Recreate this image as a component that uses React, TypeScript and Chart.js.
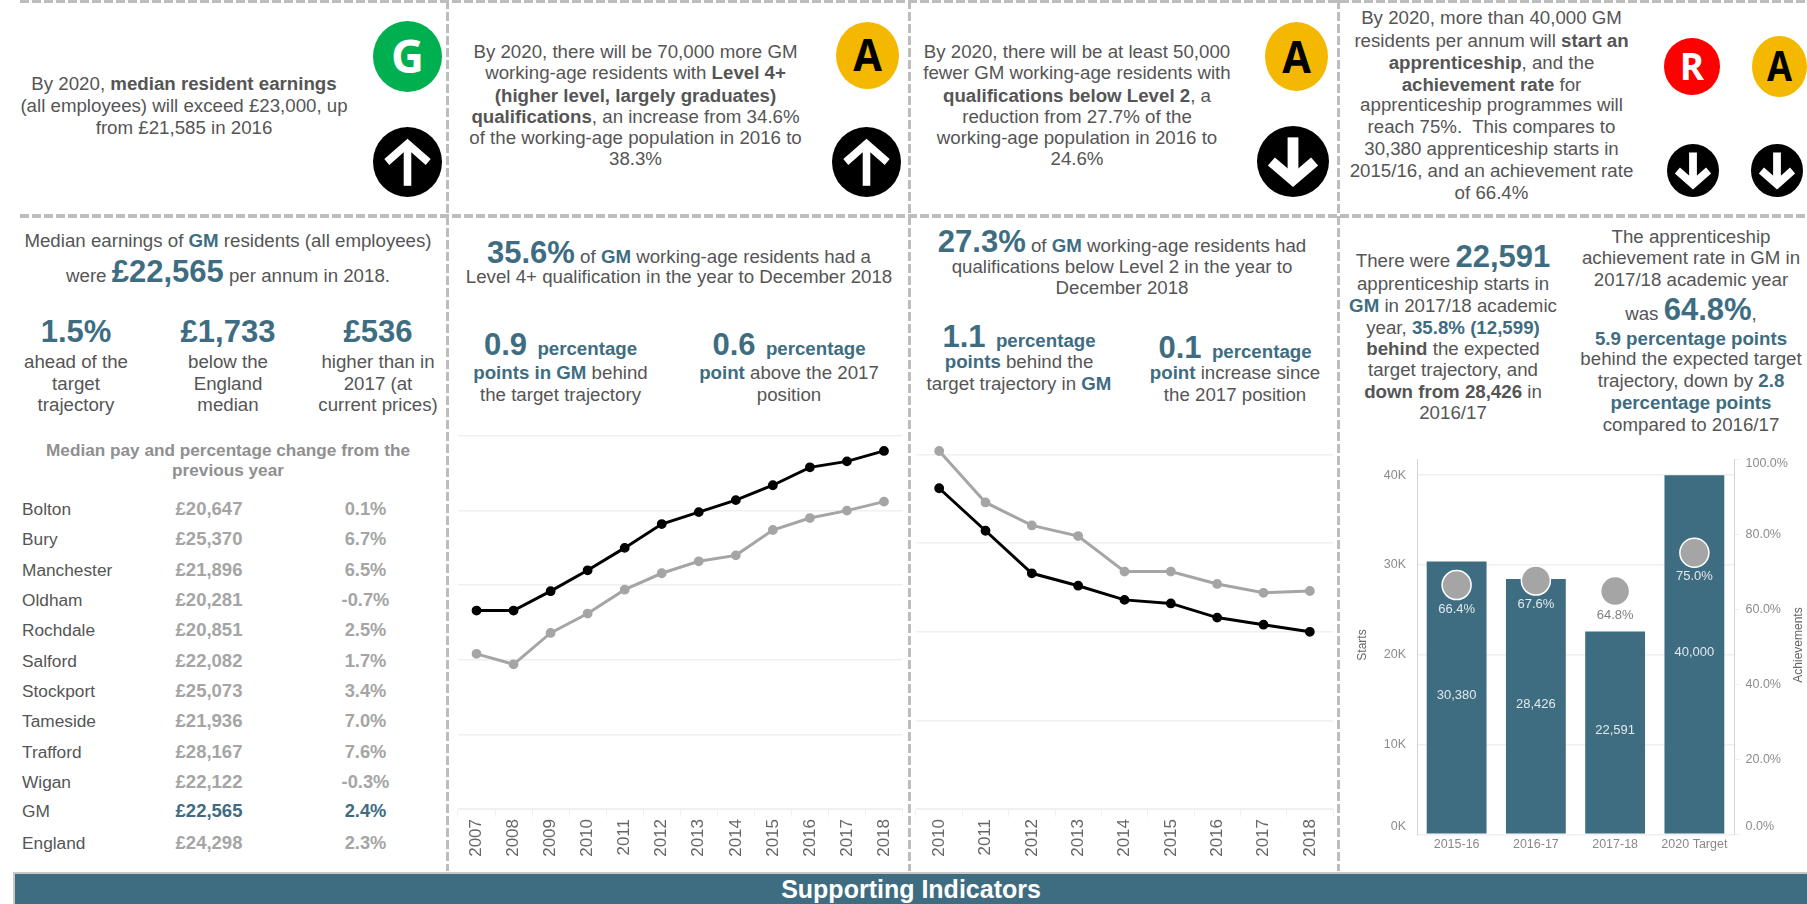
import React, { useEffect, useRef } from "react";
import { Chart, registerables } from "chart.js";

Chart.register(...registerables);

const TEAL = "#3e6d82";
const BODY = "#555555";
const GREY = "#a5a5a5";
const FONT = '"Liberation Sans", Arial, sans-serif';

// ---------- chart data ----------
const level4Years = ["2007", "2008", "2009", "2010", "2011", "2012", "2013", "2014", "2015", "2016", "2017", "2018"];
const level4England = [28.3, 28.3, 29.6, 31.0, 32.5, 34.1, 34.9, 35.7, 36.7, 37.9, 38.3, 39.0];
const level4GM = [25.4, 24.7, 26.8, 28.1, 29.7, 30.8, 31.6, 32.0, 33.7, 34.5, 35.0, 35.6];
const level4Grid = [15, 20, 25, 30, 35, 40];

const below2Years = ["2010", "2011", "2012", "2013", "2014", "2015", "2016", "2017", "2018"];
const below2GM = [35.2, 32.3, 31.0, 30.4, 28.4, 28.4, 27.7, 27.2, 27.3];
const below2England = [33.1, 30.7, 28.3, 27.6, 26.8, 26.6, 25.8, 25.4, 25.0];
const below2Grid = [15, 20, 25, 30, 35];

const apprenticeYears = ["2015-16", "2016-17", "2017-18", "2020 Target"];
const apprenticeStarts = [30380, 28426, 22591, 40000];
const apprenticeRate = [66.4, 67.6, 64.8, 75.0];
const rateLabelColors = ["#e2e8ec", "#e2e8ec", "#808080", "#e2e8ec"];
const startTicks = [0, 10000, 20000, 30000, 40000];
const rateTicks = [0, 20, 40, 60, 80, 100];

// ---------- table data ----------
const areas = ["Bolton", "Bury", "Manchester", "Oldham", "Rochdale", "Salford", "Stockport", "Tameside", "Trafford", "Wigan", "GM", "England"];
const medianPay = ["£20,647", "£25,370", "£21,896", "£20,281", "£20,851", "£22,082", "£25,073", "£21,936", "£28,167", "£22,122", "£22,565", "£24,298"];
const payChange = ["0.1%", "6.7%", "6.5%", "-0.7%", "2.5%", "1.7%", "3.4%", "7.0%", "7.6%", "-0.3%", "2.4%", "2.3%"];
const rowY = [509, 539, 570, 600, 630, 661, 691, 721, 752, 782, 811, 843];

// ---------- text: [centre x, [centre y, markup]...]  *bold*  [teal bold]  {big teal}
type Block = [number, [number, string][]];
const textBlocks: Block[] = [
  [184, [[84, "By 2020, *median resident earnings*"], [106, "(all employees) will exceed £23,000, up"], [128, "from £21,585 in 2016"]]],
  [635.5, [[52, "By 2020, there will be 70,000 more GM"], [73, "working-age residents with *Level 4+*"], [96, "*(higher level, largely graduates)*"], [117, "*qualifications*, an increase from 34.6%"], [138, "of the working-age population in 2016 to"], [159, "38.3%"]]],
  [1077, [[52, "By 2020, there will be at least 50,000"], [73, "fewer GM working-age residents with"], [96, "*qualifications below Level 2*, a"], [117, "reduction from 27.7% of the"], [138, "working-age population in 2016 to"], [159, "24.6%"]]],
  [1491.5, [[18, "By 2020, more than 40,000 GM"], [41, "residents per annum will *start an*"], [63, "*apprenticeship*, and the"], [85, "*achievement rate* for"], [105, "apprenticeship programmes will"], [127, "reach 75%.  This compares to"], [149, "30,380 apprenticeship starts in"], [171, "2015/16, and an achievement rate"], [193, "of 66.4%"]]],
  [228, [[241, "Median earnings of [GM] residents (all employees)"], [272, "were {£22,565} per annum in 2018."]]],
  [76, [[332, "{1.5%}"], [362, "ahead of the"], [384, "target"], [405, "trajectory"]]],
  [228, [[332, "{£1,733}"], [362, "below the"], [384, "England"], [405, "median"]]],
  [378, [[332, "{£536}"], [362, "higher than in"], [384, "2017 (at"], [405, "current prices)"]]],
  [679, [[253, "{35.6%} of [GM] working-age residents had a"], [277, "Level 4+ qualification in the year to December 2018"]]],
  [560.5, [[345, "{0.9}  [percentage]"], [373, "[points in GM] behind"], [395, "the target trajectory"]]],
  [789, [[345, "{0.6}  [percentage]"], [373, "[point] above the 2017"], [395, "position"]]],
  [1122, [[242, "{27.3%} of [GM] working-age residents had"], [267, "qualifications below Level 2 in the year to"], [288, "December 2018"]]],
  [1019, [[337, "{1.1}  [percentage]"], [362, "[points] behind the"], [384, "target trajectory in [GM]"]]],
  [1235, [[348, "{0.1}  [percentage]"], [373, "[point] increase since"], [395, "the 2017 position"]]],
  [1453, [[257, "There were {22,591}"], [284, "apprenticeship starts in"], [306, "[GM] in 2017/18 academic"], [328, "year, [35.8% (12,599)]"], [349, "*behind* the expected"], [370, "target trajectory, and"], [392, "*down from 28,426* in"], [413, "2016/17"]]],
  [1691, [[237, "The apprenticeship"], [258, "achievement rate in GM in"], [280, "2017/18 academic year"], [310, "was {64.8%},"], [339, "[5.9 percentage points]"], [359, "behind the expected target"], [381, "trajectory, down by [2.8]"], [403, "[percentage points]"], [425, "compared to 2016/17"]]],
];

// ---------- icons: letter, centre x, centre y, w, h, fill, ink ----------
const badges: [string, number, number, number, number, string, string][] = [
  ["G", 407.5, 56.5, 69, 71, "#00b050", "#ffffff"],
  ["A", 867.5, 55.5, 63, 67, "#f5b800", "#000000"],
  ["A", 1296, 56, 63, 69, "#f5b800", "#000000"],
  ["R", 1692, 66, 56, 57, "#ff0000", "#ffffff"],
  ["A", 1779, 66.5, 55, 61, "#f5b800", "#000000"],
];
const arrows: [boolean, number, number, number, number][] = [
  [true, 407.5, 161.5, 69, 70],
  [true, 866, 161.5, 69, 70],
  [false, 1293, 161.5, 72, 71],
  [false, 1693, 170, 52, 53],
  [false, 1777, 170, 52, 53],
];

const vDashes = [447, 909, 1338];
const hDashes = [1, 216];

function renderMarkup(s: string) {
  return s.split(/(\*[^*]+\*|\[[^\]]+\]|\{[^}]+\})/).filter(Boolean).map((p, i) => {
    const inner = p.slice(1, -1);
    if (p[0] === "*") return <span key={i} style={{ fontWeight: 700 }}>{inner}</span>;
    if (p[0] === "[") return <span key={i} style={{ fontWeight: 700, color: TEAL }}>{inner}</span>;
    if (p[0] === "{") return <span key={i} style={{ fontWeight: 700, color: TEAL, fontSize: 31 }}>{inner}</span>;
    return <span key={i}>{p}</span>;
  });
}

const centred = (x: number, y: number): React.CSSProperties => ({
  position: "absolute", left: x, top: y - 12, height: 24, lineHeight: "24px",
  transform: "translateX(-50%)", whiteSpace: "pre", textAlign: "center",
});

function useChart(make: (c: HTMLCanvasElement) => Chart) {
  const ref = useRef<HTMLCanvasElement>(null);
  useEffect(() => {
    const chart = make(ref.current!);
    return () => chart.destroy();
  }, []);
  return ref;
}

function lineChart(
  canvas: HTMLCanvasElement, labels: string[], grey: number[], black: number[], grid: number[],
  min: number, max: number, pad: { left: number; right: number; top: number; bottom: number }, xHeight: number,
) {
  return new Chart(canvas, {
    type: "line",
    data: {
      labels,
      datasets: [
        { data: black, borderColor: "#000000", backgroundColor: "#000000", borderWidth: 3, pointRadius: 3.4, tension: 0, order: 1 },
        { data: grey, borderColor: GREY, backgroundColor: GREY, borderWidth: 3, pointRadius: 3.4, tension: 0, order: 2 },
      ],
    },
    options: {
      responsive: false, animation: false, layout: { padding: pad, autoPadding: false } as any,
      plugins: { legend: { display: false }, tooltip: { enabled: false } },
      scales: {
        x: {
          offset: true,
          afterFit: (s: any) => { s.height = xHeight; },
          grid: { offset: true, drawOnChartArea: false, drawTicks: true, tickLength: 8, color: "#f0f0f0" },
          border: { color: "#f0f0f0" },
          ticks: { minRotation: 90, maxRotation: 90, autoSkip: false, padding: 2, color: "#666666", font: { family: FONT, size: 17 } },
        },
        y: {
          min, max,
          afterFit: (s: any) => { s.width = 0; },
          afterBuildTicks: (s: any) => { s.ticks = grid.map((v) => ({ value: v })); },
          grid: { color: "#f0f0f0", lineWidth: 1.5, drawTicks: false },
          border: { display: false },
          ticks: { display: false },
        },
      },
    },
  });
}

const fmtK = (v: number) => `${v / 1000}K`;
const fmtPct = (v: number) => `${v.toFixed(1)}%`;
const fmtNum = (v: number) => v.toLocaleString("en-GB");

const comboLabels = {
  id: "comboLabels",
  afterDatasetsDraw(chart: any) {
    const { ctx, scales, chartArea } = chart;
    ctx.save();
    ctx.font = `12.5px ${FONT}`;
    ctx.textBaseline = "middle";
    const clampY = (y: number) => Math.max(chartArea.top + 5, Math.min(chartArea.bottom - 8, y));
    ctx.fillStyle = "#8c8c8c";
    ctx.textAlign = "right";
    startTicks.forEach((t) => ctx.fillText(fmtK(t), chartArea.left - 11, clampY(scales.y.getPixelForValue(t))));
    ctx.textAlign = "left";
    rateTicks.forEach((t) => ctx.fillText(fmtPct(t), chartArea.right + 11.5, clampY(scales.y2.getPixelForValue(t))));
    ctx.textAlign = "center";
    ctx.font = `13px ${FONT}`;
    const bars = chart.getDatasetMeta(1).data;
    bars.forEach((b: any, i: number) => {
      ctx.fillStyle = "#e2e8ec";
      ctx.fillText(fmtNum(apprenticeStarts[i]), b.x, (b.y + b.base) / 2 - 2);
    });
    chart.getDatasetMeta(0).data.forEach((p: any, i: number) => {
      ctx.fillStyle = rateLabelColors[i];
      ctx.fillText(fmtPct(apprenticeRate[i]), p.x, p.y + 24);
    });
    ctx.fillStyle = "#666666";
    ctx.font = `12px ${FONT}`;
    ["Starts", "Achievements"].forEach((t, i) => {
      ctx.save();
      ctx.translate(i === 0 ? chartArea.left - 54 : chartArea.right + 65, 195);
      ctx.rotate(-Math.PI / 2);
      ctx.fillText(t, 0, 0);
      ctx.restore();
    });
    ctx.restore();
  },
};

function comboChart(canvas: HTMLCanvasElement) {
  return new Chart(canvas, {
    type: "bar",
    data: {
      labels: apprenticeYears,
      datasets: [
        { type: "line", data: apprenticeRate, yAxisID: "y2", showLine: false, pointRadius: 14.5, backgroundColor: GREY, borderColor: "#ffffff", pointBorderWidth: 1.5, order: 0 } as any,
        { type: "bar", data: apprenticeStarts, yAxisID: "y", backgroundColor: TEAL, barPercentage: 0.755, categoryPercentage: 1, order: 1 } as any,
      ],
    },
    options: {
      responsive: false, animation: false,
      layout: { padding: { left: 63, right: 73, top: 9, bottom: 0 }, autoPadding: false } as any,
      plugins: { legend: { display: false }, tooltip: { enabled: false } },
      scales: {
        x: {
          afterFit: (s: any) => { s.height = 35.7; },
          grid: { display: false, drawTicks: false },
          border: { display: false },
          ticks: { autoSkip: false, maxRotation: 0, padding: 2.5, color: "#888888", font: { family: FONT, size: 12.5 } },
        },
        y: {
          min: 0, max: 41800,
          afterFit: (s: any) => { s.width = 0; },
          afterBuildTicks: (s: any) => { s.ticks = startTicks.map((v) => ({ value: v })); },
          grid: { color: "#f0f0f0", lineWidth: 1.5, drawTicks: false },
          border: { color: "#d4d4d4" },
          ticks: { display: false },
        },
        y2: {
          position: "right", min: 0, max: 100,
          afterFit: (s: any) => { s.width = 0; },
          afterBuildTicks: (s: any) => { s.ticks = rateTicks.map((v) => ({ value: v })); },
          grid: { drawOnChartArea: false, drawTicks: true, tickLength: 6, color: "#f0f0f0" },
          border: { color: "#d4d4d4" },
          ticks: { display: false },
        },
      },
    } as any,
    plugins: [comboLabels],
  });
}

function Badge({ b }: { b: (typeof badges)[number] }) {
  const [letter, x, y, w, h, fill, ink] = b;
  return (
    <svg viewBox="0 0 100 100" preserveAspectRatio="none" style={{ position: "absolute", left: x - w / 2, top: y - h / 2, width: w, height: h }}>
      <circle cx="50" cy="50" r="50" fill={fill} />
      <text x="50" y="50" dy="0.36em" textAnchor="middle" fontFamily={'"Open Sans", sans-serif'} fontWeight="700" fontSize="66" fill={ink}>{letter}</text>
    </svg>
  );
}

function Arrow({ a }: { a: (typeof arrows)[number] }) {
  const [up, x, y, w, h] = a;
  return (
    <svg viewBox="0 0 100 100" preserveAspectRatio="none" style={{ position: "absolute", left: x - w / 2, top: y - h / 2, width: w, height: h }}>
      <circle cx="50" cy="50" r="50" fill="#000000" />
      <g transform={up ? undefined : "rotate(180 50 50)"} stroke="#ffffff" strokeWidth={up ? 11 : 15} fill="none">
        <path d="M20 50 L50 24 L80 50" />
        <path d="M50 27 L50 84" />
      </g>
    </svg>
  );
}

export default function App() {
  const c1 = useChart((c) => lineChart(c, level4Years, level4GM, level4England, level4Grid, 15, 40, { left: 8, right: 5.5, top: 6, bottom: 0 }, 53));
  const c2 = useChart((c) => lineChart(c, below2Years, below2GM, below2England, below2Grid, 15, 35.5, { left: 4, right: 3, top: 15.7, bottom: 0 }, 53));
  const c3 = useChart(comboChart);

  const dashH = "repeating-linear-gradient(90deg, #bdbdbd 0 9px, transparent 9px 12px)";
  const dashV = "repeating-linear-gradient(180deg, #bdbdbd 0 9px, transparent 9px 12px)";

  return (
    <div style={{ position: "absolute", left: 0, top: 0, width: 1807, height: 904, overflow: "hidden", background: "#ffffff", fontFamily: FONT, fontSize: 18.7, color: BODY }}>
      {hDashes.map((y) => <div key={y} style={{ position: "absolute", left: 20, top: y - 2, width: 1787, height: 4, background: dashH }} />)}
      {vDashes.map((x) => <div key={x} style={{ position: "absolute", left: x - 1.5, top: 0, width: 3, height: 871, background: dashV }} />)}

      {badges.map((b, i) => <Badge key={i} b={b} />)}
      {arrows.map((a, i) => <Arrow key={i} a={a} />)}

      {textBlocks.map(([cx, lines], i) => lines.map(([y, s], j) => (
        <div key={`${i}-${j}`} style={centred(cx, y)}>{renderMarkup(s)}</div>
      )))}

      <div style={{ ...centred(228, 450), fontWeight: 700, color: "#909090", fontSize: 17.2 }}>Median pay and percentage change from the</div>
      <div style={{ ...centred(228, 470), fontWeight: 700, color: "#909090", fontSize: 17.2 }}>previous year</div>
      {areas.map((a, i) => {
        const hi = a === "GM";
        return (
          <React.Fragment key={a}>
            <div style={{ position: "absolute", left: 22, top: rowY[i] - 12, lineHeight: "24px", fontSize: 17.3 }}>{a}</div>
            <div style={{ ...centred(209, rowY[i]), fontWeight: 700, color: hi ? TEAL : GREY, fontSize: 18.5 }}>{medianPay[i]}</div>
            <div style={{ ...centred(365.5, rowY[i]), fontWeight: 700, color: hi ? TEAL : GREY, fontSize: 18.3 }}>{payChange[i]}</div>
          </React.Fragment>
        );
      })}

      <canvas ref={c1} width={458} height={432} style={{ position: "absolute", left: 450, top: 430, width: 458, height: 432 }} />
      <canvas ref={c2} width={424} height={432} style={{ position: "absolute", left: 912, top: 430, width: 424, height: 432 }} />
      <canvas ref={c3} width={453} height={420} style={{ position: "absolute", left: 1354, top: 450, width: 453, height: 420 }} />

      <div style={{ position: "absolute", left: 13, top: 872, width: 1794, height: 32, boxSizing: "border-box", background: TEAL, borderTop: "2px solid #c8c8c8", borderLeft: "2px solid #c8c8c8", color: "#ffffff", fontWeight: 700, fontSize: 25, lineHeight: "31px", textAlign: "center" }}>
        Supporting Indicators
      </div>
    </div>
  );
}
